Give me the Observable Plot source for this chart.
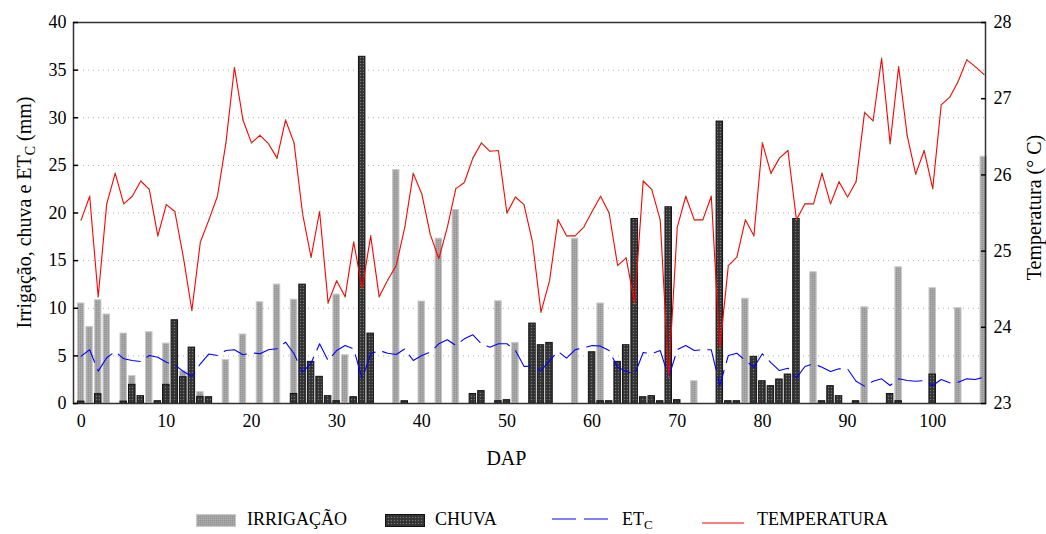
<!DOCTYPE html>
<html><head><meta charset="utf-8">
<script src="https://cdn.jsdelivr.net/npm/d3@7"></script>
<script src="https://cdn.jsdelivr.net/npm/@observablehq/plot@0.6"></script>
<style>
body{margin:0;background:#fff;}
#wrap{position:relative;width:1046px;height:534px;font-family:"Liberation Serif","Times New Roman",serif;color:#000;overflow:hidden;}
.lab{position:absolute;top:509px;font-size:18px;line-height:20px;white-space:nowrap;}
.sw{position:absolute;}
</style></head><body>
<svg width="0" height="0" style="position:absolute">
<defs>
<pattern id="irrPat" width="2" height="2" patternUnits="userSpaceOnUse">
<rect width="2" height="2" fill="#a2a2a2"/><rect width="1" height="1" fill="#939393"/><rect x="1" y="1" width="1" height="1" fill="#afafaf"/>
</pattern>
<pattern id="chuPat" width="3" height="3" patternUnits="userSpaceOnUse">
<rect width="3" height="3" fill="#3a3a3a"/><rect width="1" height="1" fill="#7a7a7a"/><rect x="1.5" y="1.5" width="1" height="1" fill="#1c1c1c"/>
</pattern>
</defs></svg>
<div id="wrap">
<div id="chart"></div>
<svg class="sw" style="left:196px;top:514px" width="40" height="13"><rect x="0.5" y="0.5" width="39" height="12" fill="url(#irrPat)" stroke="#c8c8c8"/></svg>
<div class="lab" style="left:247px">IRRIGAÇÃO</div>
<svg class="sw" style="left:385px;top:514px" width="40" height="13"><rect x="0.5" y="0.5" width="39" height="12" fill="url(#chuPat)" stroke="#111"/></svg>
<div class="lab" style="left:435px">CHUVA</div>
<svg class="sw" style="left:552px;top:514px" width="58" height="10"><line x1="0" y1="5" x2="58" y2="5" stroke="#0000ff" stroke-width="1.2" stroke-dasharray="24,8"/></svg>
<div class="lab" style="left:622px">ET<sub style="font-size:13px;vertical-align:-4px">C</sub></div>
<svg class="sw" style="left:702px;top:518px" width="42" height="10"><line x1="0" y1="5" x2="42" y2="5" stroke="#ff0000" stroke-width="1.2"/></svg>
<div class="lab" style="left:757px">TEMPERATURA</div>
</div>
<script>
// ---- data ----
const dap = d3.range(0, 107);
const temperatura = [25.41,25.72,24.40,25.62,26.02,25.62,25.72,25.92,25.81,25.20,
25.61,25.52,24.92,24.22,25.12,25.41,25.72,26.42,27.41,26.72,
26.42,26.52,26.41,26.22,26.72,26.42,25.49,24.92,25.52,24.32,
24.61,24.40,25.12,24.51,25.20,24.40,24.62,24.81,25.31,26.02,
25.75,25.22,24.90,25.31,25.82,25.90,26.22,26.42,26.31,26.32,
25.50,25.71,25.61,25.12,24.20,24.61,25.41,25.20,25.20,25.31,
25.52,25.72,25.50,24.81,24.91,24.31,25.92,25.81,25.41,23.35,
25.31,25.72,25.41,25.41,25.72,23.72,24.81,24.92,25.41,25.20,
26.42,26.02,26.22,26.32,25.41,25.62,25.62,26.02,25.62,25.91,
25.71,25.91,26.82,26.71,27.53,26.41,27.42,26.52,26.01,26.32,
25.82,26.92,27.02,27.23,27.51,27.42,27.32];
const etc = [4.97,5.64,3.40,4.80,5.46,4.69,4.51,4.41,5.04,4.86,
4.34,4.06,3.36,2.83,4.17,5.20,5.04,5.56,5.64,5.11,
5.32,5.22,5.64,5.74,6.44,5.22,3.29,4.25,6.27,4.51,
5.56,6.09,5.74,2.59,5.22,5.56,5.28,5.14,5.74,4.51,
5.04,5.39,6.27,6.69,6.09,6.79,7.21,6.27,5.91,6.27,
6.27,5.56,3.90,3.92,3.46,4.51,5.46,4.76,5.64,5.85,
6.09,6.02,5.56,3.81,3.39,3.04,5.35,5.22,5.56,2.76,
5.64,6.09,5.56,5.64,5.64,1.89,5.04,5.28,4.51,3.81,
5.22,4.30,3.46,3.71,2.69,3.88,4.17,3.81,3.36,3.64,
3.64,2.34,1.82,2.34,2.59,1.89,2.59,2.41,2.34,2.41,
1.89,2.52,2.17,2.24,2.59,2.52,2.76];
const irrigDap = [0,1,2,3,5,6,8,10,12,14,17,19,21,23,25,30,31,37,40,42,44,49,51,58,61,72,78,86,92,96,100,103,106];
const irrigMm  = [10.5,8.04,10.84,9.34,7.34,2.87,7.48,6.29,3.36,1.19,4.55,7.24,10.63,12.48,10.9,11.43,5.07,24.5,10.7,17.3,20.3,10.73,6.36,17.3,10.5,2.34,11.0,13.78,10.1,14.3,12.1,10.0,25.9];
const chuvaDap = [0,2,5,6,7,9,10,11,12,13,14,15,25,26,27,28,29,30,32,33,34,38,46,47,49,50,53,54,55,60,61,62,63,64,65,66,67,68,69,70,75,76,77,79,80,81,82,83,84,87,88,89,91,95,96,100];
const chuvaMm  = [0.2,0.98,0.2,1.96,0.77,0.24,1.96,8.74,2.76,5.87,0.7,0.66,1.0,12.48,4.37,2.8,0.77,0.24,0.66,36.4,7.34,0.24,1.0,1.3,0.24,0.35,8.39,6.12,6.36,5.38,0.24,0.24,4.37,6.12,19.37,0.66,0.77,0.24,20.6,0.35,29.6,0.24,0.24,4.9,2.34,1.82,2.52,3.04,19.37,0.24,1.82,0.77,0.24,1.0,0.24,3.04];
const mmTicks = [0,5,10,15,20,25,30,35,40];
const tempTicks = [23,24,25,26,27,28];
const dapTicks = [0,10,20,30,40,50,60,70,80,90,100];

// ---- tables ----
const toMm = t => (t - 23) * 8;          // temperature -> left scale
const tempData = dap.map((d, i) => ({dap: d, t: temperatura[i]}));
const etcData = dap.map((d, i) => ({dap: d, v: etc[i]}));
const irrig = irrigDap.map((d, i) => ({dap: d, v: irrigMm[i]}));
const chuva = chuvaDap.map((d, i) => ({dap: d, v: chuvaMm[i]}));
const hw = 0.38;

const chart = Plot.plot({
  width: 1046, height: 480,
  marginLeft: 73, marginRight: 61, marginTop: 22, marginBottom: 77,
  x: {domain: [-0.9, 106.2]},
  y: {domain: [0, 40]},
  style: {fontFamily: "'Liberation Serif', 'Times New Roman', serif", fontSize: "18px", background: "white", color: "#000", overflow: "visible"},
  marks: [
    Plot.gridY(mmTicks.filter(t => t > 0 && t < 40), {stroke: "#b0b0b0", strokeOpacity: 1, strokeDasharray: "1,4"}),
    Plot.rect(irrig, {x1: d => d.dap - hw, x2: d => d.dap + hw, y1: d => 0, y2: "v", fill: "url(#irrPat)", stroke: "#c8c8c8", strokeWidth: 1}),
    Plot.rect(chuva, {x1: d => d.dap - hw, x2: d => d.dap + hw, y1: d => 0, y2: "v", fill: "url(#chuPat)", stroke: "#111", strokeWidth: 1}),
    Plot.line(etcData, {x: "dap", y: "v", stroke: "#0000ff", strokeWidth: 1.1, strokeDasharray: "24,8"}),
    Plot.line(tempData, {x: "dap", y: d => toMm(d.t), stroke: "#ff0000", strokeWidth: 1.1}),
    Plot.dot(tempData, {x: "dap", y: d => toMm(d.t), r: 0.8, fill: "#33aa33", stroke: null}),
    Plot.frame({stroke: "#333", strokeWidth: 1.5}),
    Plot.axisY({ticks: mmTicks, tickSize: -5, tickPadding: 12, label: null, strokeWidth: 1.5}),
    Plot.axisY({anchor: "right", ticks: tempTicks.map(toMm), tickFormat: d => String(Math.round(23 + d / 8)), tickSize: -5, tickPadding: 13, label: null, strokeWidth: 1.5}),
    Plot.axisX({ticks: dapTicks, tickSize: 0, tickPadding: 11, label: null})
  ]
});
document.getElementById("chart").appendChild(chart);

// titles with subscripts
const svg = d3.select(chart);
const xs = chart.scale("x"), ys = chart.scale("y");
const yMid = (ys.apply(0) + ys.apply(40)) / 2;
const lt = svg.append("text").attr("transform", `translate(31,${yMid}) rotate(-90)`)
  .attr("text-anchor", "middle").attr("font-size", 20).attr("fill", "#000");
lt.append("tspan").text("Irrigação, chuva e ET");
lt.append("tspan").attr("font-size", 14).attr("dy", 4).text("C");
lt.append("tspan").attr("dy", -4).text(" (mm)");
svg.append("text").attr("transform", `translate(1041,${yMid - 5}) rotate(-90)`)
  .attr("text-anchor", "middle").attr("font-size", 20).attr("fill", "#000").text("Temperatura (° C)");
svg.append("text").attr("x", xs.apply(50)).attr("y", 465)
  .attr("text-anchor", "middle").attr("font-size", 20).attr("fill", "#000").text("DAP");
</script>
</body></html>
